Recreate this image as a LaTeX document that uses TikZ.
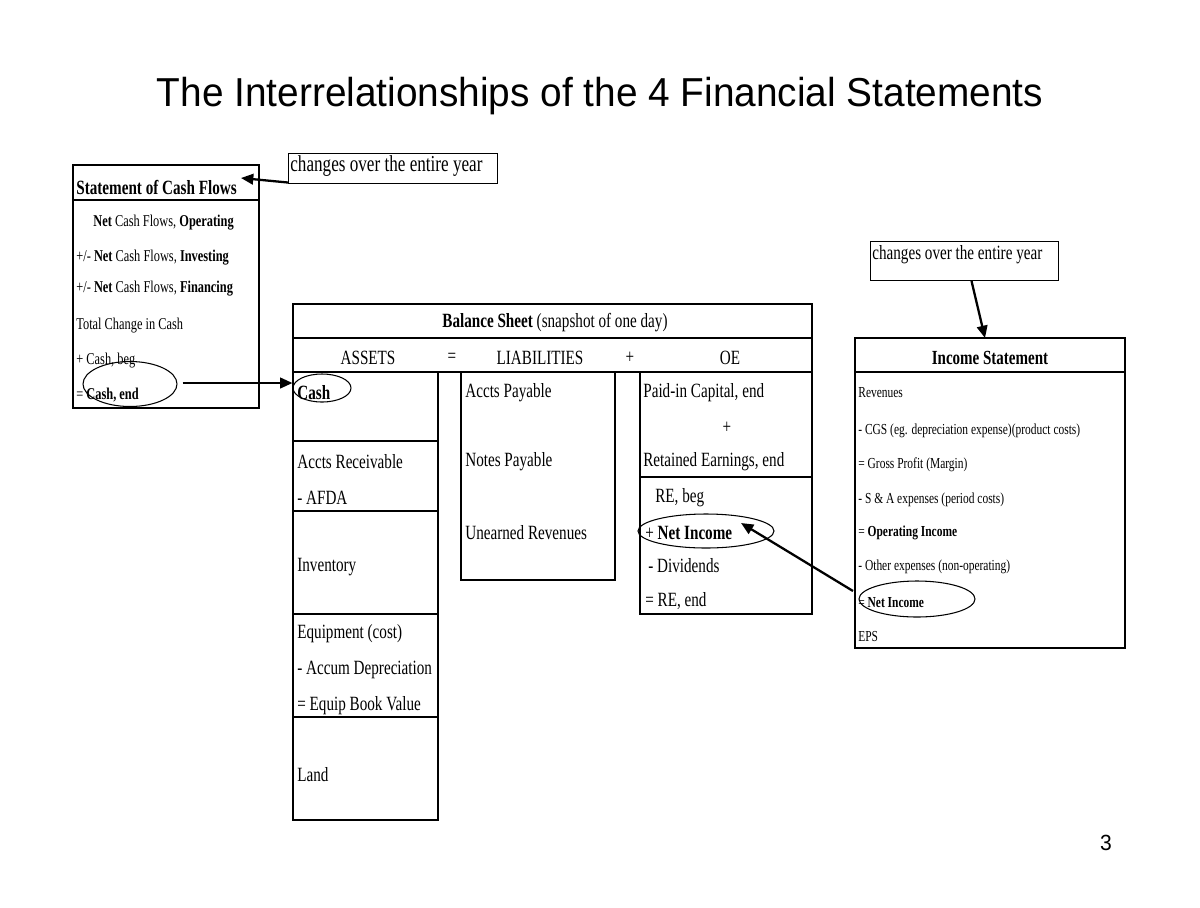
\documentclass[tikz,border=0pt]{standalone}
\usepackage{fontspec}
\setmainfont{Liberation Serif}[FakeStretch=0.75]
\newfontfamily\titlefont{Liberation Sans}[FakeStretch=0.96]
\usetikzlibrary{shapes.geometric,arrows.meta}
\begin{document}
\begin{tikzpicture}[x=0.02cm,y=-0.02cm,
  frame/.style={line width=1.6pt},
  divider/.style={line width=1.1pt},
  thin/.style={line width=0.6pt},
  txt/.style={anchor=west,inner sep=0pt,font=\fontsize{11.5pt}{12pt}\selectfont},
  stxt/.style={anchor=west,inner sep=0pt,font=\fontsize{9.4pt}{10pt}\selectfont},
  istxt/.style={anchor=west,inner sep=0pt,font=\fontsize{8.7pt}{9pt}\selectfont},
  ctxt/.style={anchor=center,inner sep=0pt,font=\fontsize{11.5pt}{12pt}\selectfont},
  notetxt/.style={anchor=north west,inner sep=0pt,font=\fontsize{13pt}{14pt}\selectfont},
  oval/.style={draw,ellipse,thin,inner sep=0pt},
  note/.style={draw,thin,rectangle,inner sep=0pt},
  arr/.style={line width=1.3pt,-{Triangle[length=7pt,width=6pt]}}
]
\useasboundingbox (0,0) rectangle (1200,907);
% title
\node[inner sep=0pt,font=\titlefont\fontsize{23pt}{25pt}\selectfont] (title) at (600,96) {The Interrelationships of the 4 Financial Statements};
\node[inner sep=0pt,font=\titlefont\fontsize{12.5pt}{14pt}\selectfont] (page) at (1106,843) {3};

% ---------- Statement of Cash Flows ----------
\draw[frame] (73,165) rectangle (259,408);
\draw[line width=0.9pt] (73,200) -- (259,200);
\node[txt,font=\bfseries\fontsize{11.5pt}{12pt}\selectfont] (cfhead) at (76,187) {Statement of Cash Flows};
\node[stxt] (cf1) at (93,223) {\textbf{Net} Cash Flows, \textbf{Operating}};
\node[stxt] (cf2) at (76,258) {+/- \textbf{Net} Cash Flows, \textbf{Investing}};
\node[stxt] (cf3) at (76,289) {+/- \textbf{Net} Cash Flows, \textbf{Financing}};
\node[stxt] (cf4) at (76,326) {Total Change in Cash};
\node[stxt] (cf5) at (76,361) {+ Cash, beg};
\node[stxt] (cf6) at (76,395) {= \textbf{Cash, end}};

% note 1
\node[note,minimum width=209*0.02cm,minimum height=30*0.02cm,anchor=north west] (note1) at (288,153) {};
\node[notetxt] (note1t) at (290,155) {changes over the entire year};

% ---------- Balance Sheet ----------
\draw[frame] (293,304) rectangle (812,372);
\draw[divider] (293,338) -- (812,338);
\node[ctxt] (bshead) at (555,323) {\textbf{Balance Sheet} (snapshot of one day)};
\node[ctxt] (assets) at (368,358) {ASSETS};
\node[ctxt] (eq) at (452,358) {=};
\node[ctxt] (liab) at (540,358) {LIABILITIES};
\node[ctxt] (plus) at (630,358) {+};
\node[ctxt] (oe) at (730,358) {OE};

% assets column
\draw[frame] (293,372) rectangle (438,820);
\foreach \yy in {441,511,614,717} \draw[divider] (293,\yy) -- (438,\yy);
\node[txt] (cash) at (297,393) {\textbf{Cash}};
\node[txt] (ar) at (297,462) {Accts Receivable};
\node[txt] (afda) at (297,498) {- AFDA};
\node[txt] (inv) at (297,567) {Inventory};
\node[txt] (equip) at (297,634) {Equipment (cost)};
\node[txt] (accum) at (297,670) {- Accum Depreciation};
\node[txt] (ebv) at (297,706) {= Equip Book Value};
\node[txt] (land) at (297,775) {Land};

% liabilities column
\draw[frame] (461,372) rectangle (615,580);
\node[txt] (ap) at (465,393) {Accts Payable};
\node[txt] (np) at (465,462) {Notes Payable};
\node[txt] (ur) at (465,533) {Unearned Revenues};

% OE column
\draw[frame] (640,372) rectangle (812,614);
\draw[frame] (640,477) -- (812,477);
\node[txt] (pic) at (643,393) {Paid-in Capital, end};
\node[ctxt] (oeplus) at (727,428) {+};
\node[txt] (ree) at (643,462) {Retained Earnings, end};
\node[txt] (rebeg) at (655,498) {RE, beg};
\node[txt] (reni) at (645,533) {+ \textbf{Net Income}};
\node[txt] (div) at (648,566) {- Dividends};
\node[txt] (reend) at (645,601) {= RE, end};

% ---------- Income Statement ----------
\draw[frame] (855,338) rectangle (1125,648);
\draw[frame] (855,372) -- (1125,372);
\node[ctxt,font=\bfseries\fontsize{11.4pt}{12pt}\selectfont] (ishead) at (990,358) {Income Statement};
\node[istxt] (is1) at (858,393) {Revenues};
\node[istxt] (is2) at (858,431) {- CGS (eg. depreciation expense)(product costs)};
\node[istxt] (is3) at (858,465) {= Gross Profit (Margin)};
\node[istxt] (is4) at (858,500) {- S \& A expenses (period costs)};
\node[istxt] (is5) at (858,533) {= \textbf{Operating Income}};
\node[istxt] (is6) at (858,567) {- Other expenses (non-operating)};
\node[istxt] (is7) at (858,603) {= \textbf{Net Income}};
\node[istxt] (is8) at (858,637) {EPS};

% note 2
\node[note,minimum width=188*0.02cm,minimum height=39*0.02cm,anchor=north west] (note2) at (870,241) {};
\node[notetxt,font=\fontsize{11.5pt}{12pt}\selectfont] (note2t) at (872,245) {changes over the entire year};

% ---------- ovals ----------
\node[oval,minimum width=94*0.02cm,minimum height=45*0.02cm] (cfoval) at (130,384) {};
\node[oval,minimum width=58*0.02cm,minimum height=28*0.02cm] (bsoval) at (322,388) {};
\node[oval,minimum width=136*0.02cm,minimum height=34*0.02cm] (reoval) at (706,531) {};
\node[oval,minimum width=116*0.02cm,minimum height=36*0.02cm] (isoval) at (917,599) {};

% ---------- connectors ----------
\coordinate (cfhit) at (241,178);
\coordinate (isleft) at (853,591);
\coordinate (retip) at (741,523);
\coordinate (istop) at (985,338);
\draw[arr] (note1.west) ++(0,14) coordinate (n1a) (n1a) -- (cfhit);
\draw[arr] (cfoval.east) ++(5,-1) coordinate (cfa) (cfa) -- (bsoval.west |- cfa);
\draw[arr] (note2.south) ++(7,0) coordinate (n2a) (n2a) -- (istop);
\draw[arr] (isleft) -- (retip);
\end{tikzpicture}
\end{document}
